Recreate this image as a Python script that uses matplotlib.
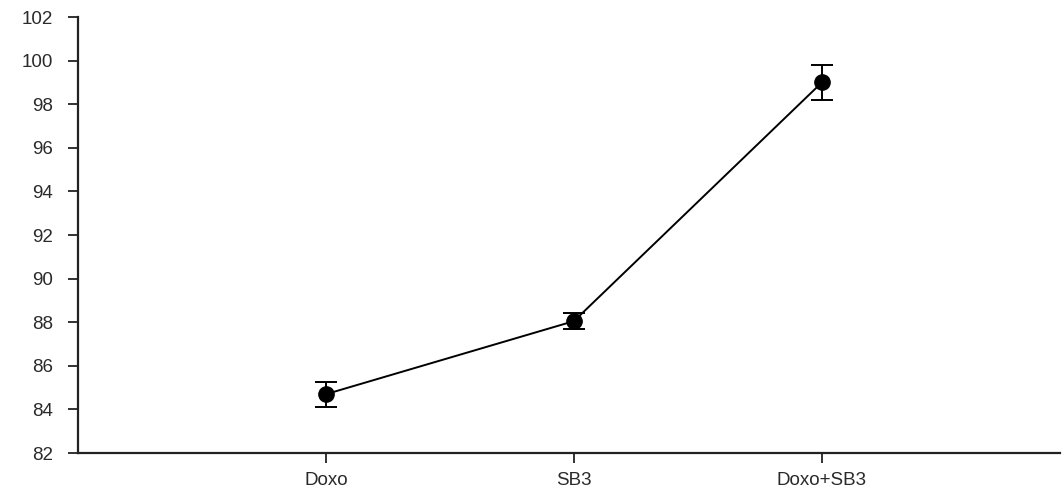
import matplotlib.pyplot as plt

# values
groups = ["Doxo", "SB3", "Doxo+SB3"]
means = [84.7, 88.05, 99.0]
errors = [0.58, 0.36, 0.8]
y_ticks = [82, 84, 86, 88, 90, 92, 94, 96, 98, 100, 102]


def show_graph():
    """Draw the mean values with error bars"""
    plt.rcParams['font.family'] = ['Liberation Sans', 'DejaVu Sans']
    fig = plt.figure(figsize=(10.62, 4.95), dpi=100)
    ax = fig.add_axes([0.0734, 0.0848, 0.9247, 0.8808])
    xs = list(range(1, len(groups) + 1))
    ax.errorbar(xs, means, yerr=errors, color='black', marker='o',
                markersize=11, linewidth=1.4, elinewidth=1.4,
                capsize=8, capthick=1.4)
    ax.set_xlim(0, 3.96)
    ax.set_ylim(82, 102)
    ax.set_yticks(y_ticks)
    ax.set_xticks(xs)
    ax.set_xticklabels(groups)
    for side in ['top', 'right']:
        ax.spines[side].set_visible(False)
    for side in ['left', 'bottom']:
        ax.spines[side].set_linewidth(1.6)
        ax.spines[side].set_color('#222222')
    ax.tick_params(axis='both', direction='out', length=7, width=1.3,
                   color='#222222', labelsize=13.5, labelcolor='#2a2a2a')
    ax.tick_params(axis='y', pad=11)
    ax.tick_params(axis='x', pad=7)
    fig.savefig('out.png', dpi=100)
    return


def main():
    """Main function of the program"""
    show_graph()
    return


if __name__ == "__main__":
    main()
